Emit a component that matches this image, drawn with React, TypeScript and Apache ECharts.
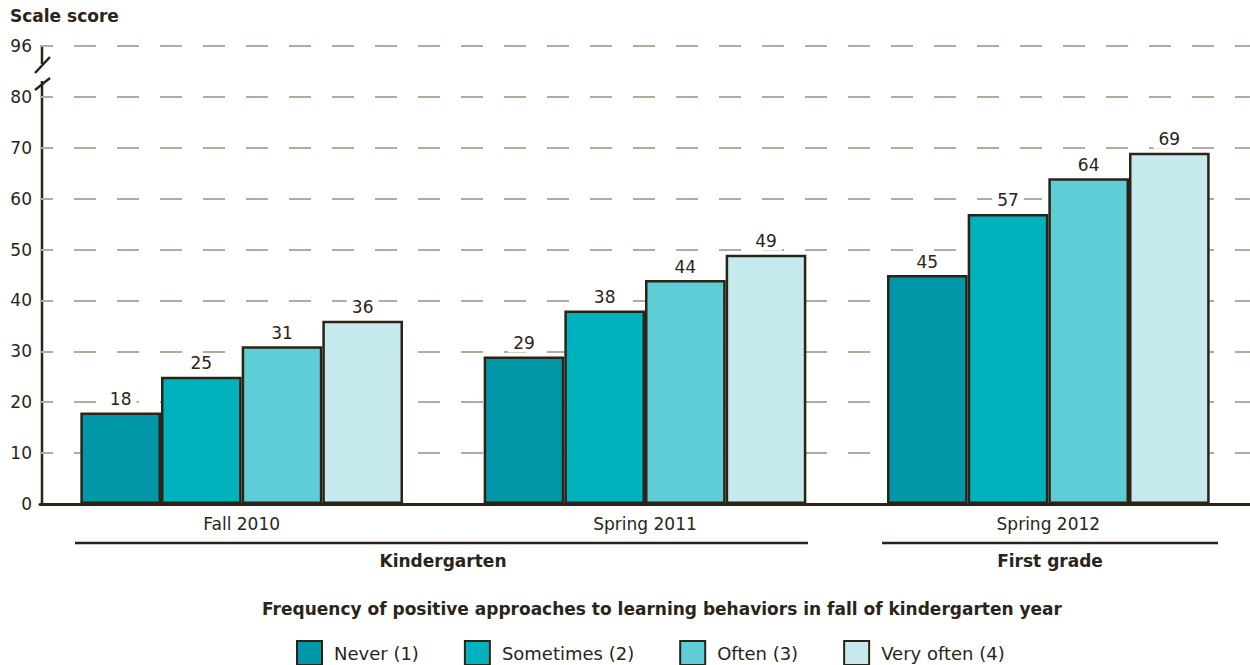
import React, { useEffect, useRef } from "react";
import * as echarts from "echarts";

const categories = ["Fall 2010", "Spring 2011", "Spring 2012"];
const seriesNames = ["Never (1)", "Sometimes (2)", "Often (3)", "Very often (4)"];
const neverValues = [18, 29, 45];
const sometimesValues = [25, 38, 57];
const oftenValues = [31, 44, 64];
const veryOftenValues = [36, 49, 69];
const colors = ["#0097A9", "#00B2BE", "#5ECDD6", "#C5E9ED"];
const yTickLabels: Record<number, string> = { 0: "0", 10: "10", 20: "20", 30: "30", 40: "40", 50: "50", 60: "60", 70: "70", 80: "80", 90: "96" };

const FONT = "'DejaVu Sans', sans-serif";
const TEXT = "#2B2418";
const EDGE = "#2A2316";

export default function App() {
  const ref = useRef<HTMLDivElement>(null);
  useEffect(() => {
    if (!ref.current) return;
    const chart = echarts.init(ref.current, null, { renderer: "svg" });
    const values = [neverValues, sometimesValues, oftenValues, veryOftenValues];
    chart.setOption({
      animation: false,
      textStyle: { fontFamily: FONT, color: TEXT },
      grid: { left: 40, right: -2, top: 46, bottom: 161, containLabel: false },
      legend: {
        top: 640,
        left: 296,
        padding: 0,
        itemWidth: 25,
        itemHeight: 24,
        itemGap: 45,
        icon: "rect",
        data: seriesNames,
        itemStyle: { borderColor: EDGE, borderWidth: 2 },
        textStyle: { fontFamily: FONT, fontSize: 18, color: TEXT, padding: [0, 0, 0, 7] },
      },
      xAxis: {
        type: "category",
        data: categories,
        axisLine: { lineStyle: { color: EDGE, width: 3 } },
        axisTick: { show: false },
        axisLabel: { fontFamily: FONT, fontSize: 17, color: TEXT, margin: 11 },
      },
      yAxis: {
        type: "value",
        min: 0,
        max: 90,
        interval: 10,
        axisLine: { show: false },
        axisTick: { show: false },
        axisLabel: {
          fontFamily: FONT,
          fontSize: 17,
          color: TEXT,
          margin: 8,
          formatter: (v: number) => yTickLabels[v] ?? "",
        },
        splitLine: {
          lineStyle: { color: "#B3AC9E", width: 2, type: [22, 21], dashOffset: 9 },
        },
      },
      series: seriesNames.map((name, i) => ({
        name,
        type: "bar",
        data: values[i],
        barGap: "0%",
        barCategoryGap: "20%",
        itemStyle: { color: colors[i], borderColor: EDGE, borderWidth: 2.5 },
        label: {
          show: true,
          position: "top",
          distance: 4,
          fontFamily: FONT,
          fontSize: 17,
          color: TEXT,
          backgroundColor: "#ffffff",
          padding: [1, 5],
        },
      })),
      graphic: [
        { type: "text", left: 10, top: 7, style: { text: "Scale score", font: `bold 17px ${FONT}`, fill: TEXT } },
        { type: "line", shape: { x1: 42, y1: 45, x2: 42, y2: 64 }, style: { stroke: EDGE, lineWidth: 2.5 } },
        { type: "line", shape: { x1: 42, y1: 81, x2: 42, y2: 504 }, style: { stroke: EDGE, lineWidth: 2.5 } },
        { type: "line", shape: { x1: 35, y1: 73, x2: 50, y2: 57 }, style: { stroke: EDGE, lineWidth: 2.5 } },
        { type: "line", shape: { x1: 35, y1: 90, x2: 50, y2: 78 }, style: { stroke: EDGE, lineWidth: 2.5 } },
        { type: "line", shape: { x1: 75, y1: 543, x2: 808, y2: 543 }, style: { stroke: EDGE, lineWidth: 2.5 } },
        { type: "line", shape: { x1: 882, y1: 543, x2: 1218, y2: 543 }, style: { stroke: EDGE, lineWidth: 2.5 } },
        { type: "text", x: 443, y: 561, style: { text: "Kindergarten", font: `bold 17px ${FONT}`, fill: TEXT, align: "center", verticalAlign: "middle" } },
        { type: "text", x: 1050, y: 561, style: { text: "First grade", font: `bold 17px ${FONT}`, fill: TEXT, align: "center", verticalAlign: "middle" } },
        { type: "text", x: 662, y: 609, style: { text: "Frequency of positive approaches to learning behaviors in fall of kindergarten year", font: `bold 17px ${FONT}`, fill: TEXT, align: "center", verticalAlign: "middle" } },
      ],
    });
    return () => chart.dispose();
  }, []);
  return <div ref={ref} style={{ position: "absolute", left: 0, top: 0, width: 1250, height: 665 }} />;
}
